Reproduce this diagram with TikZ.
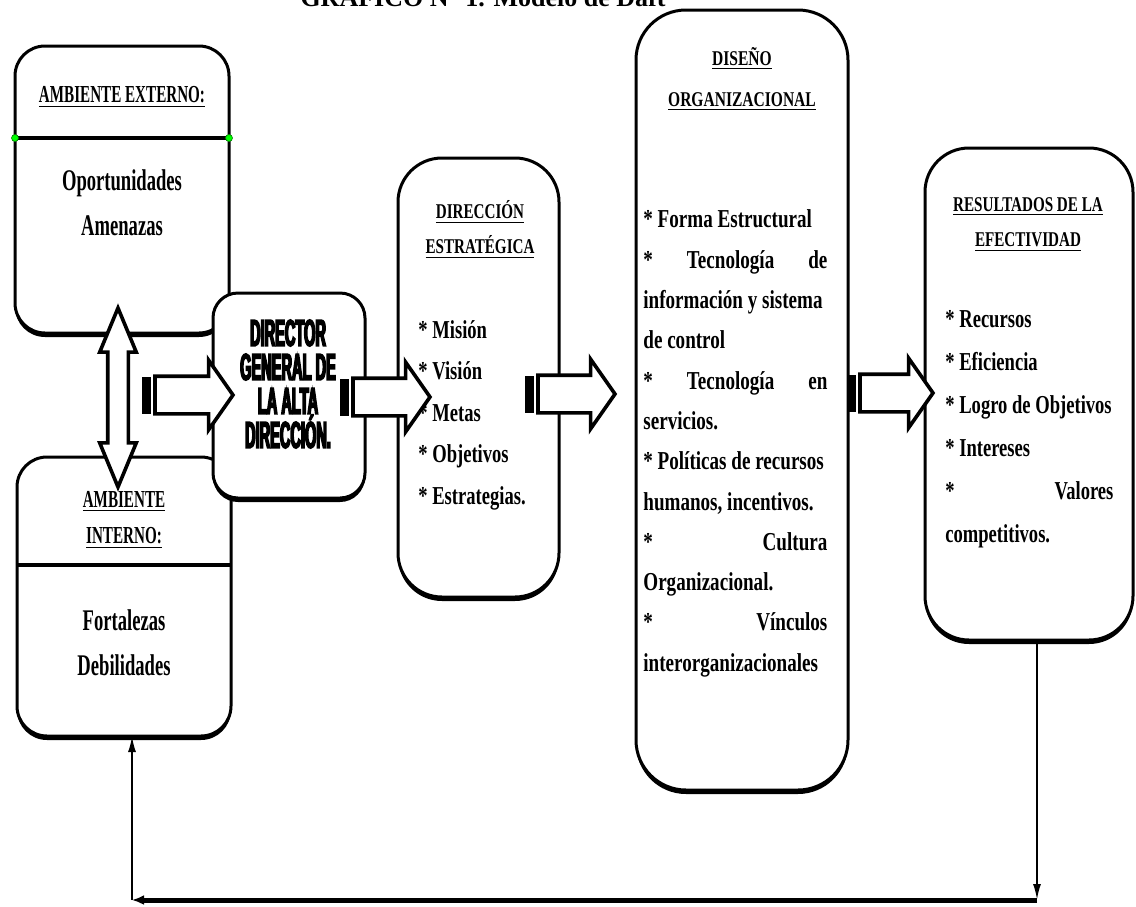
\documentclass[tikz,border=0pt]{standalone}
\usepackage{fontspec}
\setmainfont{Liberation Serif}
\newfontfamily\extfont[FakeStretch=0.62]{Liberation Serif}
\newfontfamily\estfont[FakeStretch=0.72]{Liberation Serif}
\newfontfamily\disfont[FakeStretch=0.74]{Liberation Serif}
\newfontfamily\dirfont[FakeStretch=0.39,FakeBold=4]{Liberation Sans}
\usetikzlibrary{arrows.meta, positioning, shapes.arrows, shadows}

\begin{document}
\begin{tikzpicture}[
  x=0.5pt, y=-0.5pt,
  panel/.style={draw, line width=1.5pt, fill=white, rounded corners=#1,
                inner sep=0pt, outer sep=0pt,
                drop shadow={shadow xshift=0pt, shadow yshift=-2pt,
                             opacity=1, fill=black}},
  panel/.default=15pt,
  blk/.style={single arrow, draw, line width=1.8pt, fill=white,
              inner xsep=0pt, inner ysep=8.5pt, outer sep=0pt,
              single arrow head extend=8pt, single arrow tip angle=110,
              minimum height=#1, anchor=tail},
  dblk/.style={double arrow, draw, line width=1.8pt, fill=white,
               inner xsep=0pt, inner ysep=4.25pt, outer sep=0pt,
               double arrow head extend=4pt, double arrow tip angle=45,
               minimum height=89.5pt, rotate=90},
  stripe/.style={fill=black, minimum width=4.5pt, minimum height=18.5pt,
                 inner sep=0pt, outer sep=0pt},
  gdot/.style={circle, fill=green, draw=green!50!black, line width=0.3pt,
               minimum size=3.5pt, inner sep=0pt},
  divline/.style={line width=1.8pt},
  extT/.style={font=\extfont\bfseries\fontsize{12.2}{18}\selectfont,
               align=center, inner sep=0pt},
  extB/.style={font=\extfont\bfseries\fontsize{15}{22.5}\selectfont,
               align=center, inner sep=0pt},
  estT/.style={font=\estfont\bfseries\fontsize{10.5}{17.5}\selectfont,
               align=center, inner sep=0pt},
  estB/.style={font=\estfont\bfseries\fontsize{12.9}{#1}\selectfont,
               align=flush left, inner sep=0pt, anchor=west},
  disT/.style={font=\disfont\bfseries\fontsize{10.5}{20.5}\selectfont,
               align=center, inner sep=0pt},
  disB/.style={font=\disfont\bfseries\fontsize{12.9}{20.15}\selectfont,
               align=flush left, inner sep=0pt, anchor=west},
  dirT/.style={font=\dirfont\bfseries\fontsize{18.7}{17}\selectfont,
               align=center, inner sep=0pt},
  fbthin/.style={line width=1pt, -{Latex[length=8pt, width=4pt]}},
  fbthick/.style={line width=2.5pt, -{Latex[length=6pt, width=5pt]}},
]
\useasboundingbox (0,0) rectangle (1136,906);

% title (cut at the top of the page)
\node[font=\bfseries\fontsize{13}{15}\selectfont, anchor=base] (grafT) at (483,6)
  {GRAFICO N° 1. Modelo de Daft};

% ambiente externo / interno
\node[panel, minimum width=107pt, minimum height=143.5pt] (ext) at (122,189.5) {};
\coordinate (extDiv) at (0,138);
\draw[divline] (ext.west |- extDiv) -- (ext.east |- extDiv);
\node[gdot] (gdL) at (ext.west |- extDiv) {};
\node[gdot] (gdR) at (ext.east |- extDiv) {};
\node[extT] (extTit) at (122,97) {\underline{AMBIENTE EXTERNO:}};
\node[extB] (extTxt) at (122,202.5) {Oportunidades\\Amenazas};

\node[panel, minimum width=107pt, minimum height=139.5pt] (int) at (124,596.5) {};
\coordinate (intDiv) at (0,565);
\draw[divline] (int.west |- intDiv) -- (int.east |- intDiv);
\node[extT] (intTit) at (124,520) {\underline{AMBIENTE}\\\underline{INTERNO:}};
\node[extB] (intTxt) at (124,642.5) {Fortalezas\\Debilidades};

\node[dblk] (extint) at (118,397.5) {};

% director general
\node[panel=12.5pt, minimum width=76pt, minimum height=102.5pt] (dir) at (289,395.5) {};
\node[dirT] (dirTxt) at (288,384)
  {\lineskiplimit=-20pt\relax DIRECTOR\\GENERAL DE\\LA ALTA\\DIRECCIÓN.};
\node[blk=39pt] (a1) at (155,395) {};
\node[stripe, left=2pt of a1.tail] (s1) {};

% direccion estrategica
\node[panel=22pt, minimum width=80.5pt, minimum height=219.5pt] (est) at (478.5,377.5) {};
\node[estT] (estTit) at (480,229.5) {\underline{DIRECCIÓN}\\\underline{ESTRATÉGICA}};
\node[estB=20.75pt] (estTxt) at (418,415)
  {{*} Misión\\{*} Visión\\{*} Metas\\{*} Objetivos\\{*} Estrategias.};
\node[blk=38.5pt] (a2) at (353,397) {};
\node[stripe, left=2pt of a2.tail] (s2) {};

% diseno organizacional
\node[panel=25pt, minimum width=106pt, minimum height=390pt] (dis) at (742,400) {};
\node[disT] (disTit) at (742,79) {\underline{DISEÑO}\\\underline{ORGANIZACIONAL}};
\node[disB] (disTxt) at (643,443.5)
  {{*} Forma Estructural\\
   \makebox[92pt]{*\hfill Tecnología\hfill de}\\
   información y sistema\\
   de control\\
   \makebox[92pt]{*\hfill Tecnología\hfill en}\\
   servicios.\\
   {*} Políticas de recursos\\
   humanos, incentivos.\\
   \makebox[92pt]{*\hfill Cultura}\\
   Organizacional.\\
   \makebox[92pt]{*\hfill Vínculos}\\
   interorganizacionales};
\node[blk=38.5pt] (a3) at (538,394) {};
\node[stripe, left=2pt of a3.tail] (s3) {};

% resultados
\node[panel=22pt, minimum width=104pt, minimum height=246pt] (res) at (1029,394) {};
\node[estT] (resTit) at (1028,224.5) {\underline{RESULTADOS DE LA}\\\underline{EFECTIVIDAD}};
\node[estB=21.5pt] (resTxt) at (945,429.5)
  {{*} Recursos\\{*} Eficiencia\\{*} Logro de Objetivos\\{*} Intereses\\
   \makebox[84pt]{*\hfill Valores}\\competitivos.};
\node[blk=36.5pt] (a4) at (860,393) {};
\node[stripe, left=2pt of a4.tail] (s4) {};

% retroalimentacion
\coordinate (fbR) at (1037,900);
\coordinate (fbL) at (132,900);
\draw[fbthin] (res.south -| fbR) -- (fbR);
\draw[fbthick] (fbR) -- (fbL);
\draw[fbthin] (fbL) -- (int.south -| fbL);
\end{tikzpicture}
\end{document}
